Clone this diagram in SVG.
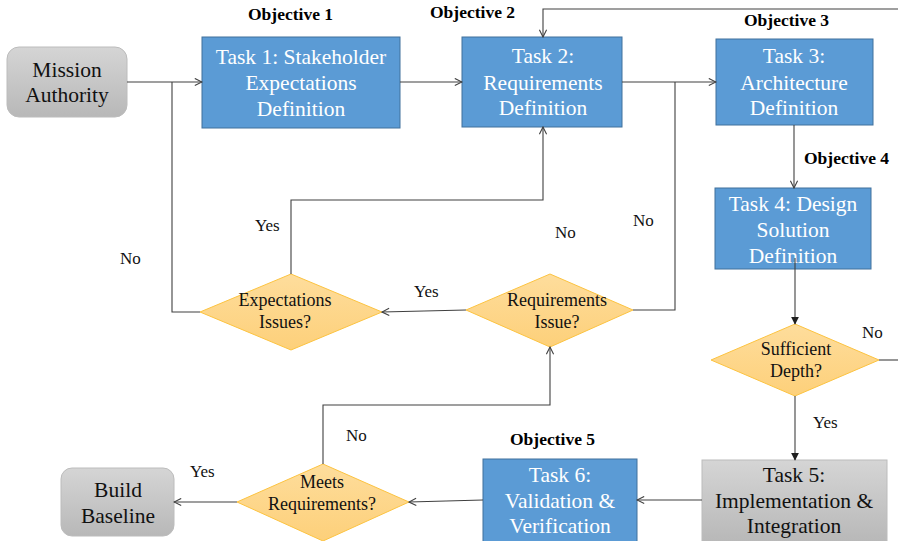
<svg xmlns="http://www.w3.org/2000/svg" width="898" height="541" viewBox="0 0 898 541">
  <defs>
    <linearGradient id="gray" x1="0" y1="0" x2="0" y2="1">
      <stop offset="0" stop-color="#d5d5d5"/>
      <stop offset="1" stop-color="#b8b8b8"/>
    </linearGradient>
    <linearGradient id="gold" x1="0" y1="0" x2="0" y2="1">
      <stop offset="0" stop-color="#fedd9c"/>
      <stop offset="1" stop-color="#fdd07a"/>
    </linearGradient>
    <marker id="open" viewBox="0 0 10 10" refX="9" refY="5" markerWidth="9" markerHeight="9" markerUnits="userSpaceOnUse" orient="auto">
      <path d="M1,1 L9,5 L1,9" fill="none" stroke="#404040" stroke-width="1.2"/>
    </marker>
    <marker id="solid" viewBox="0 0 10 10" refX="9" refY="5" markerWidth="8" markerHeight="8" markerUnits="userSpaceOnUse" orient="auto">
      <path d="M0,0 L10,5 L0,10 Z" fill="#202020"/>
    </marker>
  </defs>
  <style>
    text { font-family: 'Liberation Serif', serif; }
    .task { fill: #5b9bd5; stroke: #41719c; stroke-width: 1; }
    .term { fill: url(#gray); stroke: #bcbcbc; stroke-width: 1; }
    .dec { fill: url(#gold); stroke: #fcc340; stroke-width: 1; }
    .tt { font-size: 21.5px; fill: #ffffff; text-anchor: middle; }
    .tb { font-size: 21.5px; fill: #111111; text-anchor: middle; }
    .dt { font-size: 18px; fill: #111111; text-anchor: middle; }
    .obj { font-size: 17.5px; font-weight: bold; fill: #000000; }
    .lbl { font-size: 17px; fill: #111111; }
    .c { fill: none; stroke: #404040; stroke-width: 1.1; }
  </style>

  <!-- objective headings -->
  <g id="objectives">
    <text class="obj" x="248" y="20">Objective 1</text>
    <text class="obj" x="430" y="18">Objective 2</text>
    <text class="obj" x="744" y="26">Objective 3</text>
    <text class="obj" x="804" y="164">Objective 4</text>
    <text class="obj" x="510" y="445">Objective 5</text>
  </g>

  <g id="mission-authority">
    <rect class="term" x="7" y="47" width="120" height="70" rx="12"/>
    <text class="tb" x="67" y="77">Mission</text>
    <text class="tb" x="67" y="102">Authority</text>
  </g>

  <g id="task1">
    <rect class="task" x="202" y="37" width="198" height="91"/>
    <text class="tt" x="301" y="64">Task 1: Stakeholder</text>
    <text class="tt" x="301" y="90">Expectations</text>
    <text class="tt" x="301" y="116">Definition</text>
  </g>

  <g id="task2">
    <rect class="task" x="462" y="37" width="160" height="90"/>
    <text class="tt" x="543" y="63">Task 2:</text>
    <text class="tt" x="543" y="90">Requirements</text>
    <text class="tt" x="543" y="115">Definition</text>
  </g>

  <g id="task3">
    <rect class="task" x="716" y="39" width="157" height="86"/>
    <text class="tt" x="794" y="63">Task 3:</text>
    <text class="tt" x="794" y="90">Architecture</text>
    <text class="tt" x="794" y="115">Definition</text>
  </g>

  <g id="task4">
    <rect class="task" x="715" y="188" width="156" height="81"/>
    <text class="tt" x="793" y="211">Task 4: Design</text>
    <text class="tt" x="793" y="237">Solution</text>
    <text class="tt" x="793" y="263">Definition</text>
  </g>

  <g id="sufficient-depth">
    <polygon class="dec" points="795,324 879,360 795,396 711,360"/>
    <text class="dt" x="796" y="355">Sufficient</text>
    <text class="dt" x="796" y="377">Depth?</text>
  </g>

  <g id="task5">
    <rect class="term" x="702" y="460" width="185" height="82"/>
    <text class="tb" x="794" y="482">Task 5:</text>
    <text class="tb" x="794" y="508">Implementation &amp;</text>
    <text class="tb" x="794" y="533">Integration</text>
  </g>

  <g id="task6">
    <rect class="task" x="483" y="459" width="154" height="83"/>
    <text class="tt" x="560" y="482">Task 6:</text>
    <text class="tt" x="560" y="508">Validation &amp;</text>
    <text class="tt" x="560" y="533">Verification</text>
  </g>

  <g id="requirements-issue">
    <polygon class="dec" points="550,274 633,310 550,347 466,310"/>
    <text class="dt" x="557" y="306">Requirements</text>
    <text class="dt" x="557" y="328">Issue?</text>
  </g>

  <g id="expectations-issues">
    <polygon class="dec" points="291,274 382,312 291,350 200,312"/>
    <text class="dt" x="285" y="306">Expectations</text>
    <text class="dt" x="285" y="328">Issues?</text>
  </g>

  <g id="meets-requirements">
    <polygon class="dec" points="323,464 409,502 323,541 237,502"/>
    <text class="dt" x="322" y="488">Meets</text>
    <text class="dt" x="322" y="510">Requirements?</text>
  </g>

  <g id="build-baseline">
    <rect class="term" x="61" y="468" width="113" height="68" rx="11"/>
    <text class="tb" x="118" y="497">Build</text>
    <text class="tb" x="118" y="523">Baseline</text>
  </g>

  <!-- connectors -->
  <g id="connectors">
    <path class="c" d="M127,82 H202" marker-end="url(#open)"/>
    <path class="c" d="M200,312 H172 V82"/>
    <path class="c" d="M400,82 H462" marker-end="url(#open)"/>
    <path class="c" d="M898,9 H543 V37" marker-end="url(#open)"/>
    <path class="c" d="M622,82 H716" marker-end="url(#open)"/>
    <path class="c" d="M633,310 H675 V82"/>
    <path class="c" d="M794,125 V188" marker-end="url(#open)"/>
    <path class="c" d="M795,258 V324" marker-end="url(#solid)"/>
    <path class="c" d="M879,360 H898"/>
    <path class="c" d="M795,396 V460" marker-end="url(#solid)"/>
    <path class="c" d="M466,310 L382,312" marker-end="url(#open)"/>
    <path class="c" d="M291,274 V200 H543 V127" marker-end="url(#open)"/>
    <path class="c" d="M702,500 H637" marker-end="url(#open)"/>
    <path class="c" d="M483,500 L409,502" marker-end="url(#open)"/>
    <path class="c" d="M323,464 V405 H550 V347" marker-end="url(#open)"/>
    <path class="c" d="M237,502 H174" marker-end="url(#open)"/>
  </g>

  <!-- branch labels -->
  <g id="labels">
    <text class="lbl" x="255" y="231">Yes</text>
    <text class="lbl" x="120" y="264">No</text>
    <text class="lbl" x="414" y="297">Yes</text>
    <text class="lbl" x="555" y="238">No</text>
    <text class="lbl" x="633" y="226">No</text>
    <text class="lbl" x="862" y="338">No</text>
    <text class="lbl" x="813" y="428">Yes</text>
    <text class="lbl" x="346" y="441">No</text>
    <text class="lbl" x="190" y="477">Yes</text>
  </g>
</svg>
